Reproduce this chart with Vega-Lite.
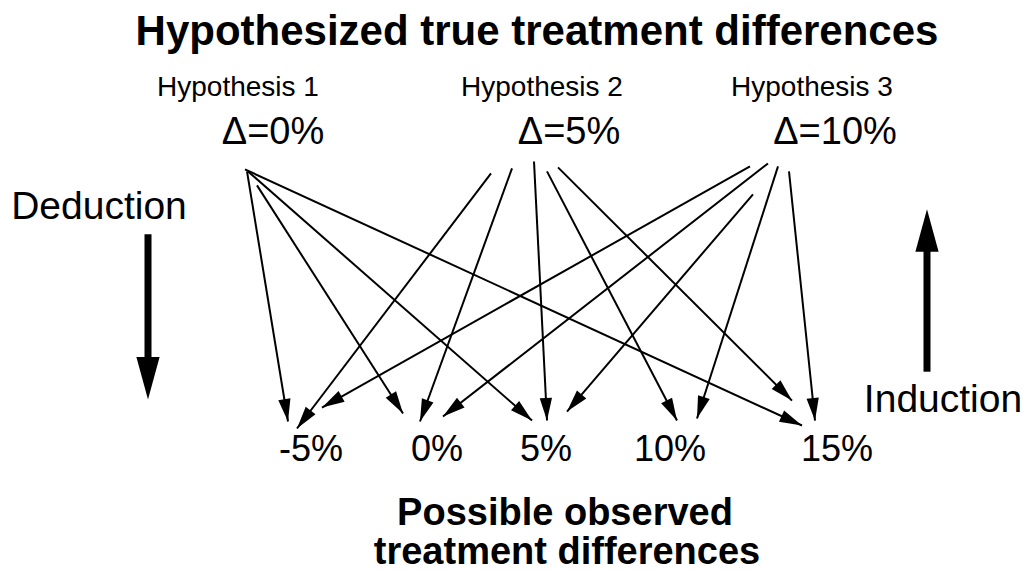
{
  "$schema": "https://vega.github.io/schema/vega-lite/v6.json",
  "width": 1028,
  "height": 572,
  "padding": 0,
  "autosize": {"type": "fit", "contains": "padding"},
  "background": "white",
  "view": {"stroke": null},
  "config": {"axis": {"disable": true}},
  "datasets": {
    "arrows": [
      {"from": "Δ=0%", "to": "-5%", "x1": 247, "y1": 172, "x2": 288, "y2": 423},
      {"from": "Δ=0%", "to": "0%", "x1": 257, "y1": 186, "x2": 403, "y2": 415},
      {"from": "Δ=0%", "to": "5%", "x1": 248, "y1": 172, "x2": 532, "y2": 422},
      {"from": "Δ=0%", "to": "15%", "x1": 245, "y1": 170, "x2": 802, "y2": 427},
      {"from": "Δ=5%", "to": "-5%", "x1": 491, "y1": 174, "x2": 297, "y2": 430},
      {"from": "Δ=5%", "to": "0%", "x1": 512, "y1": 169, "x2": 420, "y2": 423},
      {"from": "Δ=5%", "to": "5%", "x1": 534, "y1": 162, "x2": 547, "y2": 422},
      {"from": "Δ=5%", "to": "10%", "x1": 547, "y1": 172, "x2": 677, "y2": 422},
      {"from": "Δ=5%", "to": "15%", "x1": 558, "y1": 168, "x2": 792, "y2": 402},
      {"from": "Δ=10%", "to": "-5%", "x1": 750, "y1": 167, "x2": 322, "y2": 409},
      {"from": "Δ=10%", "to": "0%", "x1": 768, "y1": 164, "x2": 443, "y2": 418},
      {"from": "Δ=10%", "to": "5%", "x1": 753, "y1": 195, "x2": 567, "y2": 413},
      {"from": "Δ=10%", "to": "10%", "x1": 778, "y1": 167, "x2": 697, "y2": 420},
      {"from": "Δ=10%", "to": "15%", "x1": 789, "y1": 172, "x2": 815, "y2": 422}
    ],
    "bigArrows": [
      {"name": "Deduction", "x": 148, "y_start": 235, "y_base": 365, "y_tip": 401},
      {"name": "Induction", "x": 927, "y_start": 373, "y_base": 245, "y_tip": 210}
    ],
    "hypotheses": [
      {"text": "Hypothesis 1", "x": 238, "y": 96},
      {"text": "Hypothesis 2", "x": 542, "y": 96},
      {"text": "Hypothesis 3", "x": 812, "y": 96}
    ],
    "deltas": [
      {"text": "Δ=0%", "x": 273, "y": 145},
      {"text": "Δ=5%", "x": 569, "y": 145},
      {"text": "Δ=10%", "x": 835, "y": 145}
    ],
    "observed": [
      {"text": "-5%", "x": 311, "y": 463},
      {"text": "0%", "x": 437, "y": 463},
      {"text": "5%", "x": 546, "y": 463},
      {"text": "10%", "x": 670, "y": 463},
      {"text": "15%", "x": 837, "y": 463}
    ],
    "directions": [
      {"text": "Deduction", "x": 99, "y": 220},
      {"text": "Induction", "x": 943, "y": 413}
    ],
    "title": [
      {"text": "Hypothesized true treatment differences", "x": 537, "y": 45}
    ],
    "headings": [
      {"text": "Possible observed", "x": 565, "y": 527},
      {"text": "treatment differences", "x": 567, "y": 566}
    ]
  },
  "layer": [
    {
      "data": {"name": "arrows"},
      "mark": {"type": "rule", "strokeWidth": 2, "color": "black"},
      "encoding": {
        "x": {"field": "x1", "type": "quantitative", "scale": {"domain": [0, 1028], "nice": false, "zero": false}},
        "y": {"field": "y1", "type": "quantitative", "scale": {"domain": [0, 572], "nice": false, "zero": false, "reverse": true}},
        "x2": {"field": "x2"},
        "y2": {"field": "y2"}
      }
    },
    {
      "data": {"name": "arrows"},
      "transform": [{"calculate": "atan2(datum.x2 - datum.x1, datum.y1 - datum.y2) * 180 / PI", "as": "angle"}],
      "mark": {"type": "point", "shape": "M0,0L-0.6,2.2L0.6,2.2Z", "filled": true, "size": 420, "color": "black", "opacity": 1, "strokeWidth": 0},
      "encoding": {
        "x": {"field": "x2", "type": "quantitative"},
        "y": {"field": "y2", "type": "quantitative"},
        "angle": {"field": "angle", "type": "quantitative", "scale": null}
      }
    },
    {
      "data": {"name": "bigArrows"},
      "mark": {"type": "rule", "strokeWidth": 7, "color": "black"},
      "encoding": {
        "x": {"field": "x", "type": "quantitative"},
        "y": {"field": "y_start", "type": "quantitative"},
        "y2": {"field": "y_base"}
      }
    },
    {
      "data": {"name": "bigArrows"},
      "transform": [{"calculate": "atan2(0, datum.y_start - datum.y_tip) * 180 / PI", "as": "angle"}],
      "mark": {"type": "point", "shape": "M0,0L-0.6,2.2L0.6,2.2Z", "filled": true, "size": 1500, "color": "black", "opacity": 1, "strokeWidth": 0},
      "encoding": {
        "x": {"field": "x", "type": "quantitative"},
        "y": {"field": "y_tip", "type": "quantitative"},
        "angle": {"field": "angle", "type": "quantitative", "scale": null}
      }
    },
    {
      "data": {"name": "hypotheses"},
      "mark": {"type": "text", "font": "Liberation Sans", "fontSize": 28, "align": "center", "baseline": "alphabetic", "color": "black"},
      "encoding": {
        "x": {"field": "x", "type": "quantitative"},
        "y": {"field": "y", "type": "quantitative"},
        "text": {"field": "text"}
      }
    },
    {
      "data": {"name": "deltas"},
      "mark": {"type": "text", "font": "Liberation Sans", "fontSize": 38, "align": "center", "baseline": "alphabetic", "color": "black"},
      "encoding": {
        "x": {"field": "x", "type": "quantitative"},
        "y": {"field": "y", "type": "quantitative"},
        "text": {"field": "text"}
      }
    },
    {
      "data": {"name": "observed"},
      "mark": {"type": "text", "font": "Liberation Sans", "fontSize": 36, "align": "center", "baseline": "alphabetic", "color": "black"},
      "encoding": {
        "x": {"field": "x", "type": "quantitative"},
        "y": {"field": "y", "type": "quantitative"},
        "text": {"field": "text"}
      }
    },
    {
      "data": {"name": "directions"},
      "mark": {"type": "text", "font": "Liberation Sans", "fontSize": 39, "align": "center", "baseline": "alphabetic", "color": "black"},
      "encoding": {
        "x": {"field": "x", "type": "quantitative"},
        "y": {"field": "y", "type": "quantitative"},
        "text": {"field": "text"}
      }
    },
    {
      "data": {"name": "title"},
      "mark": {"type": "text", "font": "Liberation Sans", "fontSize": 42, "fontWeight": "bold", "align": "center", "baseline": "alphabetic", "color": "black"},
      "encoding": {
        "x": {"field": "x", "type": "quantitative"},
        "y": {"field": "y", "type": "quantitative"},
        "text": {"field": "text"}
      }
    },
    {
      "data": {"name": "headings"},
      "mark": {"type": "text", "font": "Liberation Sans", "fontSize": 38, "fontWeight": "bold", "align": "center", "baseline": "alphabetic", "color": "black"},
      "encoding": {
        "x": {"field": "x", "type": "quantitative"},
        "y": {"field": "y", "type": "quantitative"},
        "text": {"field": "text"}
      }
    }
  ]
}
